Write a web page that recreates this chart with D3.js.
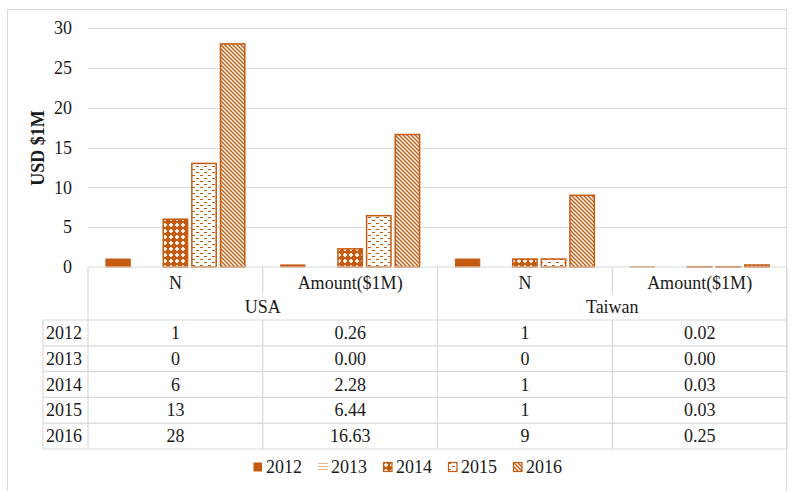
<!DOCTYPE html>
<html><head><meta charset="utf-8">
<script src="https://cdn.jsdelivr.net/npm/d3@7"></script>
<style>body{margin:0;background:#fff}svg{display:block}text{font-family:"Liberation Serif","Times New Roman",serif;fill:#1a1a1a}</style>
</head><body><svg id="c" width="792" height="491"></svg>
<script>
const years = ["2012","2013","2014","2015","2016"];
const measures = ["N","Amount($1M)","N","Amount($1M)"];
const countries = ["USA","Taiwan"];
const v2012 = [1, 0.26, 1, 0.02];
const v2013 = [0, 0.00, 0, 0.00];
const v2014 = [6, 2.28, 1, 0.03];
const v2015 = [13, 6.44, 1, 0.03];
const v2016 = [28, 16.63, 9, 0.25];
const yTicks = [0,5,10,15,20,25,30];
const series = [v2012, v2013, v2014, v2015, v2016];

const C = "#C55A11", GRID = "#d9d9d9";
const svg = d3.select("#c");
const defs = svg.append("defs");
// patterns
const p2014 = defs.append("pattern").attr("id","p2014").attr("patternUnits","userSpaceOnUse").attr("width",6).attr("height",6);
p2014.append("rect").attr("width",6).attr("height",6).attr("fill",C);
p2014.append("rect").attr("x",1).attr("y",2.2).attr("width",4).attr("height",1.6).attr("fill","#fff");
p2014.append("rect").attr("x",2.2).attr("y",1).attr("width",1.6).attr("height",4).attr("fill","#fff");
const p2015 = defs.append("pattern").attr("id","p2015").attr("patternUnits","userSpaceOnUse").attr("width",8).attr("height",6);
p2015.append("rect").attr("width",8).attr("height",6).attr("fill","#fff");
p2015.append("rect").attr("x",0).attr("y",1).attr("width",3).attr("height",1).attr("fill",C);
p2015.append("rect").attr("x",4).attr("y",4).attr("width",3).attr("height",1).attr("fill",C);
const p2016 = defs.append("pattern").attr("id","p2016").attr("patternUnits","userSpaceOnUse").attr("width",4).attr("height",4);
p2016.append("rect").attr("width",4).attr("height",4).attr("fill","#fff");
p2016.append("path").attr("d","M-1,-1L5,5M-1,3L1,5M3,-1L5,1").attr("stroke",C).attr("stroke-width",1.4);
const p2013 = defs.append("pattern").attr("id","p2013").attr("patternUnits","userSpaceOnUse").attr("width",4).attr("height",3);
p2013.append("rect").attr("width",4).attr("height",3).attr("fill","#fff");
p2013.append("rect").attr("y",1).attr("width",4).attr("height",1).attr("fill","#F4B183");
const fills = [C, "url(#p2013)", "url(#p2014)", "url(#p2015)", "url(#p2016)"];

// outer border
svg.append("rect").attr("x",7.5).attr("y",9.5).attr("width",779).attr("height",500).attr("fill","none").attr("stroke",GRID);

const pLeft = 88, pRight = 787, pTop = 28, base = 267;
const y = d3.scaleLinear().domain([0,30]).range([base, pTop]);
const x0 = d3.scaleBand().domain(d3.range(measures.length)).range([pLeft, pRight]);
const x1 = d3.scaleBand().domain(years).range([0, x0.bandwidth()]).paddingInner(0.15).paddingOuter(0.625);

// gridlines
svg.append("g").selectAll("line").data(yTicks.filter(t=>t>0)).join("line")
  .attr("x1",pLeft).attr("x2",pRight).attr("y1",d=>Math.round(y(d))+0.5).attr("y2",d=>Math.round(y(d))+0.5)
  .attr("stroke",GRID);
// y axis labels
const ya = svg.append("g").attr("transform",`translate(72,0)`)
  .call(d3.axisLeft(y).tickValues(yTicks).tickSize(0).tickPadding(0));
ya.select(".domain").remove();
ya.attr("font-family",null);
ya.selectAll("text").attr("font-size",18).attr("fill","#1a1a1a");
svg.append("text").attr("transform","translate(44,148) rotate(-90)").attr("text-anchor","middle")
  .attr("font-size",18).attr("font-weight","bold").text("USD $1M");

// bars
series.forEach((vals, si) => {
  svg.append("g").selectAll("rect").data(vals.map((v,i)=>({v,i})).filter(d=>d.v>0)).join("rect")
    .attr("x", d=>x0(d.i)+x1(years[si]))
    .attr("width", x1.bandwidth())
    .attr("y", d=>y(d.v))
    .attr("height", d=>base - y(d.v))
    .attr("fill", fills[si])
    .attr("stroke", C).attr("stroke-width", si===0?1:1.5);
});

// table
const rowTop = 320, rowH = 25.8, colL = 43;
const tl = svg.append("g").attr("stroke",GRID).attr("stroke-width",1.2).attr("fill","none");
const hl = (a,b,yy)=>tl.append("line").attr("x1",a).attr("x2",b).attr("y1",yy).attr("y2",yy);
const vl = (xx,a,b)=>tl.append("line").attr("x1",xx).attr("x2",xx).attr("y1",a).attr("y2",b);
hl(pLeft,pRight,base);
const tableBottom = rowTop + rowH*years.length;
for (let r=0;r<=years.length;r++) hl(colL,pRight,rowTop+rowH*r);
vl(colL,rowTop,tableBottom);
vl(pLeft,base,tableBottom);
vl(pRight,base,tableBottom);
vl(x0(2),base,tableBottom);
[1,3].forEach(i=>{ vl(x0(i),base,294); vl(x0(i),rowTop,tableBottom); });

const tg = svg.append("g").attr("font-size",18);
measures.forEach((m,i)=>tg.append("text").attr("x",x0(i)+x0.bandwidth()/2).attr("y",289).attr("text-anchor","middle").text(m));
countries.forEach((c,i)=>tg.append("text").attr("x",x0(2*i)+x0.bandwidth()).attr("y",313).attr("text-anchor","middle").text(c));
years.forEach((yr,r)=>{
  const cy = rowTop + rowH*r + rowH/2 + 6;
  tg.append("text").attr("x",46).attr("y",cy).text(yr);
  series[r].forEach((v,i)=>tg.append("text").attr("x",x0(i)+x0.bandwidth()/2).attr("y",cy).attr("text-anchor","middle")
    .text(i%2===0 ? d3.format("d")(v) : d3.format(".2f")(v)));
});

// legend
const lg = svg.append("g");
const lx = [253, 318, 383, 448, 513];
years.forEach((yr,i)=>{
  const g = lg.append("g").attr("transform",`translate(${lx[i]},462)`);
  if (i===1) {
    [1,4,7].forEach(o=>g.append("line").attr("x1",0).attr("x2",10).attr("y1",o+0.5).attr("y2",o+0.5).attr("stroke","#F4B183").attr("stroke-width",1));
  } else {
    g.append("rect").attr("x",0.5).attr("y",0.5).attr("width",8.5).attr("height",9).attr("fill",fills[i]).attr("stroke",C).attr("stroke-width",i===0?0:1.2);
  }
  g.append("text").attr("x",13).attr("y",11).attr("font-size",18).text(yr);
});
</script></body></html>
